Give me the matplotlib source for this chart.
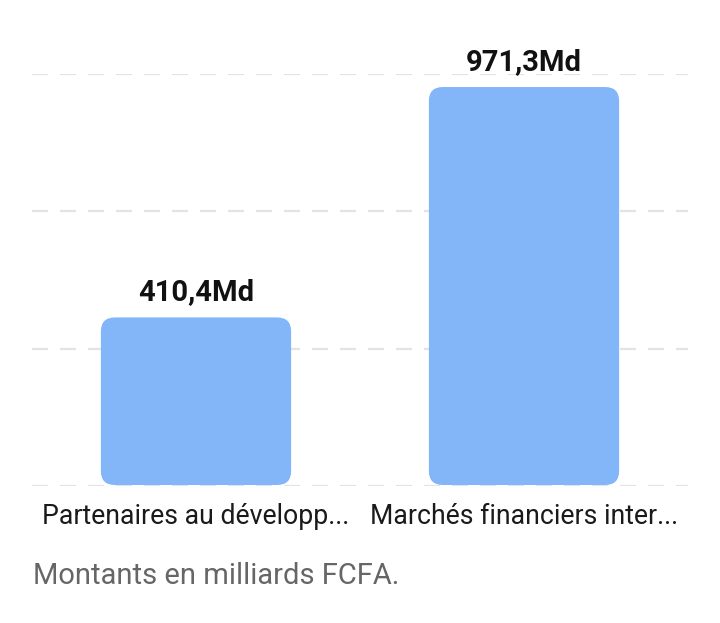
import matplotlib
matplotlib.use("Agg")
import matplotlib.pyplot as plt
from matplotlib.patches import FancyBboxPatch

# data
categories = ["Partenaires au développ...", "Marchés financiers inter..."]
values = [410.4, 971.3]
value_labels = ["410,4Md", "971,3Md"]
caption = "Montants en milliards FCFA."

plt.rcParams['font.family'] = ['Roboto', 'DejaVu Sans']

fig = plt.figure(figsize=(7.2, 6.23), dpi=100)
ax = fig.add_axes([32 / 720, (623 - 486) / 623, 656 / 720, 412 / 623])

ymax = 1003
ax.set_xlim(-0.5, len(categories) - 0.5)
ax.set_ylim(0, ymax)

# dashed horizontal grid
for g in [0, ymax / 3, 2 * ymax / 3, ymax]:
    ax.axhline(g, color="#e3e3e3", lw=1.6, dashes=(7.2, 5.4), zorder=0)

bar_w = 0.58
bars = ax.bar(range(len(values)), values, width=bar_w, color="none")

# replace with rounded bars
x_per_px = 1 / 328
y_per_px = ymax / 412
aspect = y_per_px / x_per_px
radius = 14 * x_per_px
for b in bars:
    patch = FancyBboxPatch((b.get_x(), b.get_y() + 1 * y_per_px), b.get_width(),
                           b.get_height() - 1 * y_per_px,
                           boxstyle=f"round,pad=0,rounding_size={radius}",
                           mutation_aspect=aspect, facecolor="#82b6f9",
                           edgecolor="none", zorder=2)
    ax.add_patch(patch)
    b.remove()

for i, (v, lab) in enumerate(zip(values, value_labels)):
    ax.annotate(lab, (i, v), xytext=(0, 8), textcoords="offset points",
                ha="center", va="bottom", fontsize=21, fontweight="bold",
                color="#111111")

ax.set_xticks(range(len(categories)))
ax.set_xticklabels(categories, fontsize=19.2, color="#1a1a1a")
ax.tick_params(axis="x", length=0, pad=12)
ax.set_yticks([])
for s in ax.spines.values():
    s.set_visible(False)

fig.text(33 / 720, 1 - 576 / 623, caption, fontsize=21, color="#666666",
         ha="left", va="center")

fig.savefig("out.png", dpi=100)
